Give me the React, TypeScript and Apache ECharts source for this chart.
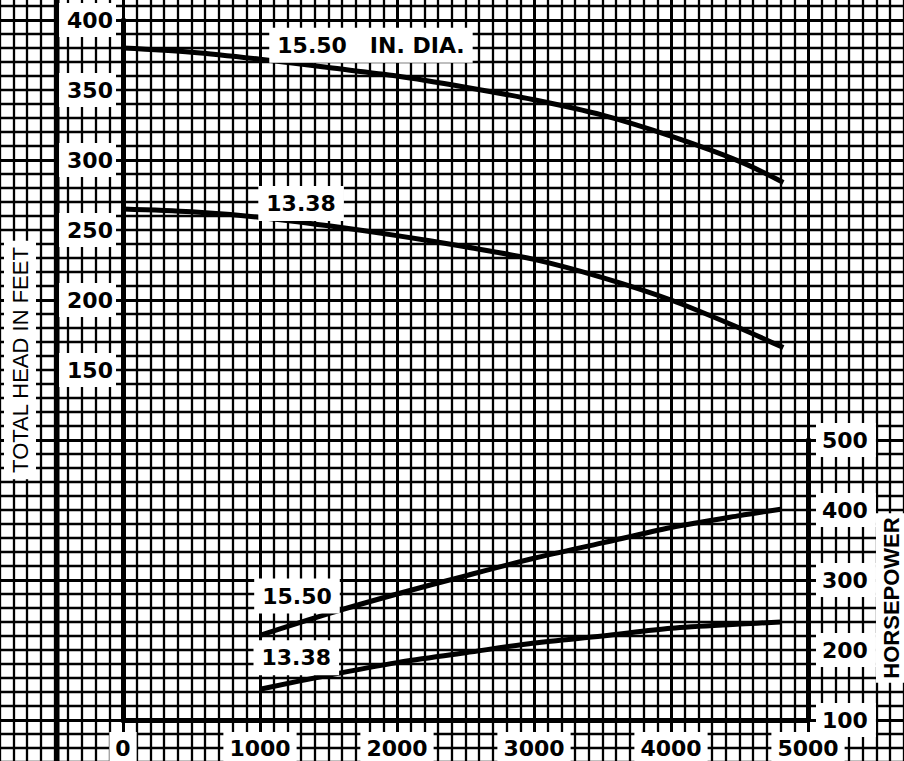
import React, { useEffect, useRef } from "react";
import * as echarts from "echarts";

// Flow (GPM) at which the head curves were read
const headFlow = [0, 500, 1000, 1500, 2000, 2500, 3000, 3500, 4000, 4500, 4820];
// Total head in feet, 15.50 in. impeller
const head1550 = [380, 377, 372, 366, 360, 352, 343, 332, 317, 299, 284];
// Total head in feet, 13.38 in. impeller
const head1338 = [265, 263, 259, 253, 246, 238, 229, 216, 200, 180, 166];

// Flow (GPM) at which the horsepower curves were read
const hpFlow = [1000, 1500, 2000, 2500, 3000, 3500, 4000, 4500, 4800];
const hp1550 = [221, 252, 280, 306, 331, 353, 375, 392, 401];
const hp1338 = [144, 164, 182, 196, 210, 220, 231, 237, 240];

// Tick labels
const headTicks = [150, 200, 250, 300, 350, 400];
const flowTicks = [0, 1000, 2000, 3000, 4000, 5000];
const hpTicks = [100, 200, 300, 400, 500];

const curveLabel1550 = "15.50   IN. DIA.";
const curveLabel1338 = "13.38";
const hpLabel1550 = "15.50";
const hpLabel1338 = "13.38";

const zip = (xs: number[], ys: number[]) => xs.map((x, i) => [x, ys[i]]);

const tickFont = {
  fontFamily: "DejaVu Sans",
  fontWeight: "bold" as const,
  fontSize: 22,
  color: "#000",
  backgroundColor: "#fff",
};

const curveStyle = { color: "#000", width: 5 };

function markLabel(coord: number[], text: string) {
  return {
    symbol: "circle",
    symbolSize: 0,
    silent: true,
    label: {
      show: true,
      position: "inside",
      formatter: "{b}",
      ...tickFont,
      padding: [7, 8, 6, 8],
    },
    data: [{ coord, name: text }],
  };
}

export default function App() {
  const ref = useRef<HTMLDivElement>(null);
  useEffect(() => {
    if (!ref.current) return;
    const chart = echarts.init(ref.current, undefined, { renderer: "svg" });
    const paperAxis = {
      type: "value" as const,
      axisLine: { show: false },
      axisTick: { show: false },
      axisLabel: { show: false },
      splitLine: { show: true, lineStyle: { color: "#000", width: 3 } },
      minorTick: { show: false, splitNumber: 10 },
      minorSplitLine: { show: true, lineStyle: { color: "#000", width: 2.3 } },
      z: 0,
    };
    const axisLineStyle = { show: true, onZero: false, lineStyle: { color: "#000", width: 5 } };
    const plain = (v: number) => String(v);
    chart.setOption({
      animation: false,
      backgroundColor: "#fff",
      grid: [
        { left: -14, top: -120, width: 959, height: 980, show: false, containLabel: false, outerBoundsMode: "none" },
        { left: 123, top: 20, width: 685, height: 700, containLabel: false, outerBoundsMode: "none" },
        { left: 123, top: 440, width: 685, height: 280, containLabel: false, outerBoundsMode: "none" },
      ],
      xAxis: [
        { ...paperAxis, gridIndex: 0, min: 0, max: 7000, interval: 1000 },
        {
          gridIndex: 1,
          type: "value",
          min: 0,
          max: 5000,
          interval: 1000,
          axisLine: axisLineStyle,
          axisTick: { show: false },
          splitLine: { show: false },
          axisLabel: {
            ...tickFont,
            customValues: flowTicks,
            formatter: plain,
            margin: 12,
            padding: [5, 6, 5, 6],
          },
          z: 5,
        },
        { gridIndex: 2, type: "value", min: 0, max: 5000, interval: 1000, show: false },
      ],
      yAxis: [
        { ...paperAxis, gridIndex: 0, min: 0, max: 7, interval: 1 },
        {
          gridIndex: 1,
          type: "value",
          min: -100,
          max: 400,
          interval: 50,
          axisLine: axisLineStyle,
          axisTick: { show: false },
          splitLine: { show: false },
          axisLabel: {
            ...tickFont,
            customValues: headTicks,
            formatter: plain,
            margin: 7,
            padding: [6, 3, 6, 8],
          },
          z: 5,
        },
        {
          gridIndex: 2,
          type: "value",
          position: "right",
          min: 100,
          max: 500,
          interval: 100,
          axisLine: axisLineStyle,
          axisTick: { show: false },
          splitLine: { show: false },
          axisLabel: {
            ...tickFont,
            customValues: hpTicks,
            formatter: plain,
            margin: 8,
            padding: [6, 8, 6, 6],
          },
          z: 5,
        },
      ],
      graphic: [
        {
          type: "line",
          shape: { x1: 57, y1: 0, x2: 57, y2: 761 },
          style: { stroke: "#000", lineWidth: 5 },
          z: 3,
        },
        {
          type: "text",
          x: 20,
          y: 360,
          rotation: Math.PI / 2,
          z: 10,
          style: {
            text: "TOTAL HEAD IN FEET",
            font: '22px "Liberation Sans"',
            fill: "#000",
            align: "center",
            verticalAlign: "middle",
            backgroundColor: "#fff",
            padding: [5, 6, 5, 6],
          },
        },
        {
          type: "text",
          x: 891,
          y: 598,
          rotation: Math.PI / 2,
          z: 10,
          style: {
            text: "HORSEPOWER",
            font: 'bold 22px "Liberation Sans"',
            fill: "#000",
            align: "center",
            verticalAlign: "middle",
            backgroundColor: "#fff",
            padding: [5, 4, 3, 4],
          },
        },
      ],
      series: [
        {
          type: "line",
          xAxisIndex: 1,
          yAxisIndex: 1,
          data: zip(headFlow, head1550),
          smooth: 0.3,
          showSymbol: false,
          lineStyle: curveStyle,
          z: 3,
          markPoint: markLabel([1810, 382], curveLabel1550),
        },
        {
          type: "line",
          xAxisIndex: 1,
          yAxisIndex: 1,
          data: zip(headFlow, head1338),
          smooth: 0.3,
          showSymbol: false,
          lineStyle: curveStyle,
          z: 3,
          markPoint: markLabel([1300, 269], curveLabel1338),
        },
        {
          type: "line",
          xAxisIndex: 2,
          yAxisIndex: 2,
          data: zip(hpFlow, hp1550),
          smooth: 0.3,
          showSymbol: false,
          lineStyle: curveStyle,
          z: 3,
          markPoint: markLabel([1270, 277], hpLabel1550),
        },
        {
          type: "line",
          xAxisIndex: 2,
          yAxisIndex: 2,
          data: zip(hpFlow, hp1338),
          smooth: 0.3,
          showSymbol: false,
          lineStyle: curveStyle,
          z: 3,
          markPoint: markLabel([1265, 189], hpLabel1338),
        },
      ],
    });
    return () => chart.dispose();
  }, []);
  return (
    <div
      ref={ref}
      style={{ position: "absolute", left: 0, top: 0, width: 904, height: 761 }}
    />
  );
}
